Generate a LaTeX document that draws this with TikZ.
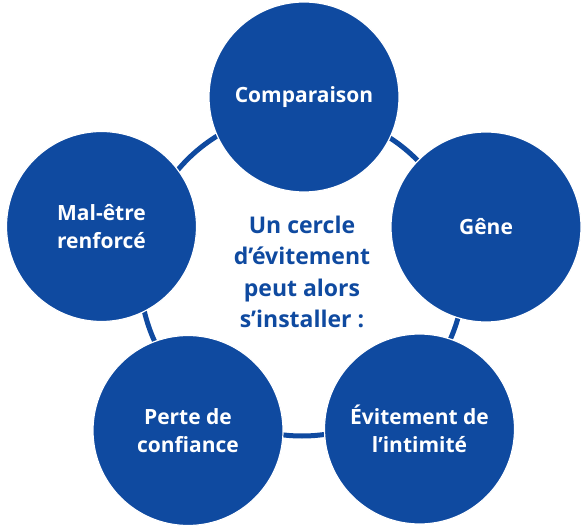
\documentclass[tikz,border=0pt]{standalone}
\usepackage{fontspec}
\setmainfont{Open Sans}
\definecolor{cblue}{RGB}{15,74,160}
\begin{document}
\begin{tikzpicture}[x=1pt,y=-1pt,
  bubble/.style={circle, fill=cblue, draw=white, line width=1.2pt, minimum size=190pt, inner sep=0pt,
    text=white, font=\bfseries\fontsize{21}{28}\selectfont, align=center},
  ringstyle/.style={circle, draw=cblue, line width=5pt, minimum size=324pt, inner sep=0pt},
  centertext/.style={text=cblue, font=\bfseries\fontsize{23}{31.5}\selectfont, align=center}]
\useasboundingbox (0,0) rectangle (586,526);
\node[ringstyle] (ring) at (302,274) {};
\node[bubble] (comp) at (304,97) {Comparaison};
\node[bubble] (gene) at (486,227) {Gêne};
\node[bubble] (evit) at (419.5,429) {Évitement de\\l’intimité};
\node[bubble] (perte) at (188,430.5) {Perte de\\confiance};
\node[bubble] (mal) at (101.5,226.5) {Mal-être\\renforcé};
\node[centertext] (title) at (302,272) {Un cercle\\d’évitement\\peut alors\\s’installer :};
\end{tikzpicture}
\end{document}
